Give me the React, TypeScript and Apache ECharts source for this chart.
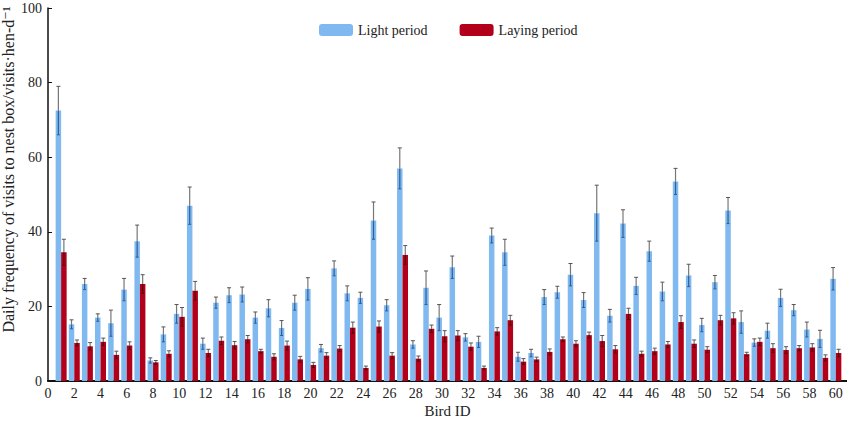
import React, { useEffect, useRef } from "react";
import * as echarts from "echarts";

const birdIds = Array.from({ length: 60 }, (_, i) => i + 1);

const lightValues = [
  72.5, 15.2, 26, 17, 15.5, 24.5, 37.5, 5.5, 12.5, 18,
  47, 10, 21, 23, 23.2, 17, 19.5, 14.2, 21, 24.7,
  8.8, 30.2, 23.5, 22.3, 43, 20.3, 57, 9.8, 25, 17,
  30.5, 11.7, 10.5, 39, 34.5, 6.5, 7.5, 22.5, 23.8, 28.5,
  21.7, 45, 17.5, 42.2, 25.5, 34.8, 24, 53.5, 28.3, 15,
  26.5, 45.7, 15.8, 10.3, 13.5, 22.3, 19, 13.8, 11.3, 27.4,
];
const lightErrors = [
  6.5, 1.2, 1.5, 1, 3.5, 3, 4.3, 0.7, 2, 2.5,
  5, 1.5, 1.5, 2, 2, 1.5, 2.3, 2, 2, 3,
  1, 2, 2, 1.5, 5, 1.5, 5.5, 1, 4.5, 3.5,
  3, 1, 1.5, 2, 3.5, 1.2, 1, 2, 1.6, 3,
  2, 7.5, 1.7, 3.7, 2.3, 2.7, 2.5, 3.5, 3, 1.8,
  1.8, 3.5, 3, 1, 2, 2.3, 1.5, 2, 2.3, 3,
];
const layingValues = [
  34.5, 10.2, 9.3, 10.5, 7, 9.5, 26, 5, 7.3, 17.2,
  24.2, 7.5, 10.8, 9.6, 11.2, 8, 6.5, 9.5, 5.8, 4.3,
  6.8, 8.7, 14.3, 3.5, 14.6, 6.8, 33.8, 6, 14, 12,
  12.2, 9.2, 3.5, 13.3, 16.3, 5.2, 5.8, 7.8, 11.2, 10,
  12.3, 10.7, 8.5, 18, 7.3, 8, 9.8, 15.8, 10, 8.4,
  16.3, 16.8, 7.2, 10.5, 8.8, 8.3, 8.8, 9, 6.2, 7.5,
];
const layingErrors = [
  3.5, 0.8, 1, 1, 1, 1, 2.5, 0.5, 0.8, 2.5,
  2.5, 1, 1, 1, 1, 0.5, 0.8, 1.2, 0.8, 0.7,
  0.8, 0.8, 1.5, 0.5, 1.5, 0.8, 2.5, 0.7, 1, 1.5,
  1.3, 1, 0.5, 1, 1.3, 0.8, 0.6, 0.8, 0.6, 0.8,
  0.8, 1.5, 1, 1.5, 0.7, 0.8, 0.8, 1.7, 1, 0.8,
  1.3, 1.5, 0.5, 1, 1.2, 0.9, 0.7, 1, 0.8, 1,
];

const FONT = "'Liberation Serif', 'DejaVu Serif', serif";
const BAR_W = 5.5;

function errRender(offsetPx: number, innerColor: string) {
  return (params: any, api: any) => {
    const x = api.value(0);
    const v = api.value(1);
    const e = api.value(2);
    const pTop = api.coord([x, v + e]);
    const pVal = api.coord([x, v]);
    const pLow = api.coord([x, Math.max(0, v - e)]);
    const cx = pVal[0] + offsetPx;
    return {
      type: "group",
      children: [
        {
          type: "line",
          shape: { x1: cx, y1: pVal[1], x2: cx, y2: pLow[1] },
          style: { stroke: innerColor, lineWidth: 1.2 },
        },
        {
          type: "line",
          shape: { x1: cx, y1: pTop[1], x2: cx, y2: pVal[1] },
          style: { stroke: "#777", lineWidth: 1.2 },
        },
        {
          type: "line",
          shape: { x1: cx - 2, y1: pTop[1], x2: cx + 2, y2: pTop[1] },
          style: { stroke: "#555", lineWidth: 1 },
        },
        {
          type: "line",
          shape: { x1: cx - 1.5, y1: pLow[1], x2: cx + 1.5, y2: pLow[1] },
          style: { stroke: innerColor, lineWidth: 1 },
        },
      ],
    };
  };
}

export default function App() {
  const ref = useRef<HTMLDivElement>(null);
  useEffect(() => {
    if (!ref.current) return;
    const chart = echarts.init(ref.current, null, { renderer: "svg" });
    const lightData = birdIds.map((id, i) => [id, lightValues[i]]);
    const layingData = birdIds.map((id, i) => [id, layingValues[i]]);
    const lightErr = birdIds.map((id, i) => [id, lightValues[i], lightErrors[i]]);
    const layingErr = birdIds.map((id, i) => [id, layingValues[i], layingErrors[i]]);
    chart.setOption({
      animation: false,
      textStyle: { fontFamily: FONT },
      legend: {
        left: 314,
        top: 18,
        itemWidth: 34,
        itemHeight: 12,
        itemGap: 32,
        textStyle: { fontFamily: FONT, fontSize: 14, color: "#222" },
        data: ["Light period", "Laying period"],
      },
      grid: {
        left: 48,
        top: 8,
        right: 0,
        bottom: 41,
        containLabel: false,
        outerBoundsMode: "none",
      },
      xAxis: {
        type: "value",
        min: 0,
        max: 60.85,
        interval: 2,
        name: "Bird ID",
        nameLocation: "middle",
        nameGap: 22,
        nameMoveOverlap: false,
        nameTextStyle: { fontFamily: FONT, fontSize: 15, color: "#222" },
        axisLine: { lineStyle: { color: "#111", width: 2 } },
        axisTick: { show: false },
        splitLine: { show: false },
        axisLabel: {
          fontFamily: FONT,
          fontSize: 14,
          color: "#222",
          margin: 5,
          showMaxLabel: false,
        },
      },
      yAxis: {
        type: "value",
        min: 0,
        max: 100,
        interval: 20,
        name: "Daily frequency of visits to nest box/visits·hen-d⁻¹",
        nameLocation: "middle",
        nameGap: 32,
        nameMoveOverlap: false,
        nameTextStyle: {
          fontFamily: FONT,
          fontSize: 16,
          color: "#222",
          padding: [0, 0, 0, 50],
        },
        axisLine: { show: true, lineStyle: { color: "#111", width: 1.5 } },
        axisTick: { show: true, inside: true, length: 4, lineStyle: { color: "#111" } },
        splitLine: { show: false },
        axisLabel: { fontFamily: FONT, fontSize: 14, color: "#222", margin: 6 },
      },
      series: [
        {
          name: "Light period",
          type: "bar",
          data: lightData,
          barWidth: BAR_W,
          barGap: "0%",
          itemStyle: { color: "#80b9f0" },
        },
        {
          name: "Laying period",
          type: "bar",
          data: layingData,
          barWidth: BAR_W,
          barGap: "0%",
          itemStyle: { color: "#b2001a" },
        },
        {
          type: "custom",
          silent: true,
          z: 5,
          data: lightErr,
          encode: { x: 0, y: 1 },
          renderItem: errRender(-BAR_W / 2, "#2f5f99"),
        },
        {
          type: "custom",
          silent: true,
          z: 5,
          data: layingErr,
          encode: { x: 0, y: 1 },
          renderItem: errRender(BAR_W / 2, "#5a0008"),
        },
      ],
    });
    return () => chart.dispose();
  }, []);
  return (
    <div
      ref={ref}
      style={{ position: "absolute", left: 0, top: 0, width: 847, height: 422 }}
    />
  );
}
